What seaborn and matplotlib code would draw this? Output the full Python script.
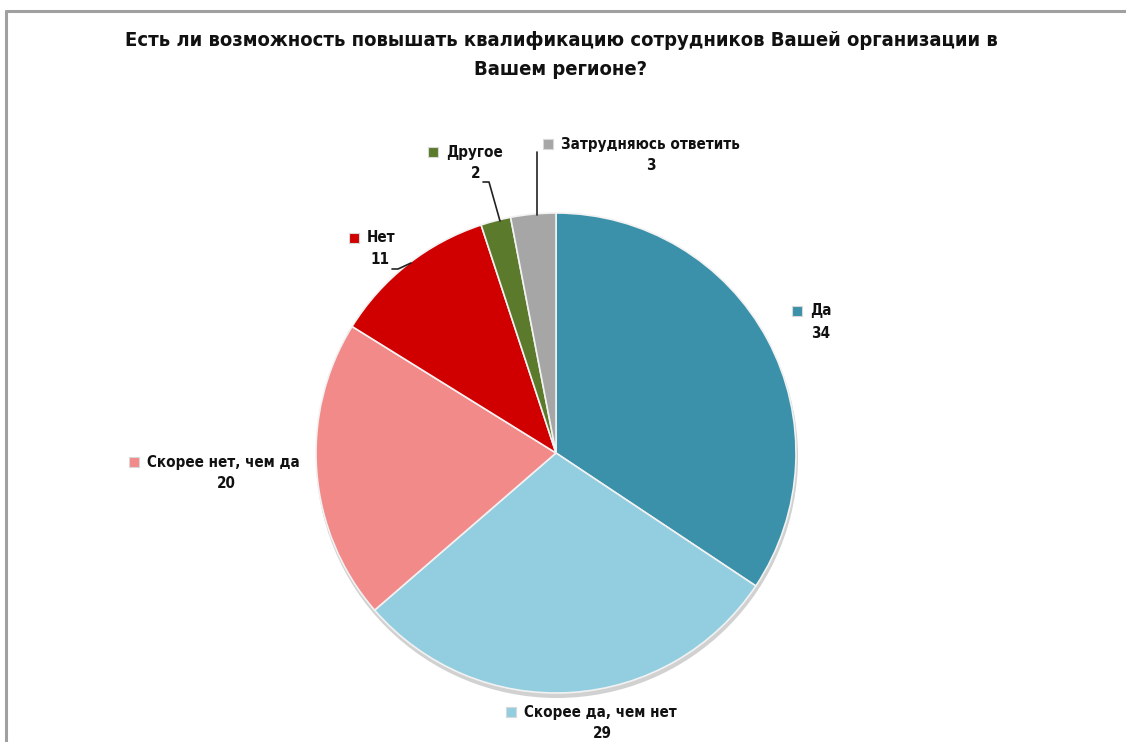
import matplotlib
matplotlib.use("Agg")
import matplotlib.pyplot as plt
from matplotlib.patches import Circle
from matplotlib.lines import Line2D
import seaborn as sns

# Survey answers, clockwise from 12 o'clock
categories = ["Да", "Скорее да, чем нет", "Скорее нет, чем да", "Нет", "Другое",
              "Затрудняюсь ответить"]
values = [34, 29, 20, 11, 2, 3]
title = "Есть ли возможность повышать квалификацию сотрудников Вашей организации в\nВашем регионе?"

sns.set_theme(style="white")
plt.rcParams["font.family"] = ["DejaVu Sans"]
STRETCH = "condensed"

colors = sns.color_palette(["#3A91A9", "#93CEE0", "#F28A8A", "#D00000", "#5B7A2C", "#A6A6A6"])

W, H = 1126, 742
fig = plt.figure(figsize=(W / 100, H / 100), dpi=100)
ax = fig.add_axes([0, 0, 1, 1])


def py(y):
    return H - y


# frame of the chart area
fig.add_artist(Line2D([6 / W, 1], [py(11) / H, py(11) / H], color="#A0A0A0", lw=2.2))
fig.add_artist(Line2D([6 / W, 6 / W], [py(11) / H, 0], color="#A0A0A0", lw=2.2))

cx, cy, r = 556, py(453), 240
ax.add_patch(Circle((cx + 1, cy - 4), r + 1, color="#000000", alpha=0.18, lw=0, zorder=1))
wedges, _ = ax.pie(values, colors=colors, startangle=90, counterclock=False,
                   center=(cx, cy), radius=r, frame=True,
                   wedgeprops=dict(edgecolor="#F2F2F2", linewidth=1.2, zorder=2))
ax.set_xlim(0, W)
ax.set_ylim(0, H)
ax.set_aspect("equal")
ax.axis("off")

title_size = 14.5
label_size = 10.9
ax.text(561, py(55), title, ha="center", va="center", fontsize=title_size,
        fontweight="bold", linespacing=1.65, color="#111111", fontstretch=STRETCH)

# data labels: (marker x, line-1 y, value x) in pixel terms
label_pos = {
    "Да": (797, 311, 821),
    "Скорее да, чем нет": (511, 712, 602),
    "Скорее нет, чем да": (134, 462, 226),
    "Нет": (354, 238, 380),
    "Другое": (433, 152, 476),
    "Затрудняюсь ответить": (548, 144, 651),
}
for name, val, col in zip(categories, values, colors):
    mx, ly, vx = label_pos[name]
    ax.scatter([mx], [py(ly)], marker="s", s=55, color=col, edgecolor="#D8D8D8",
               linewidth=0.8, zorder=5)
    ax.text(mx + 13, py(ly), name, ha="left", va="center", fontsize=label_size,
            fontweight="bold", color="#111111", zorder=5, fontstretch=STRETCH)
    ax.text(vx, py(ly + 22), str(val), ha="center", va="center", fontsize=label_size,
            fontweight="bold", color="#111111", zorder=5, fontstretch=STRETCH)

# leader lines for the small slices
ax.plot([392, 398, 411], [py(269), py(269), py(263)], color="#222222", lw=1.2, zorder=4)
ax.plot([483, 489, 500], [py(182), py(182), py(221)], color="#222222", lw=1.2, zorder=4)
ax.plot([537, 537], [py(152), py(215)], color="#222222", lw=1.2, zorder=4)

fig.savefig("out.png", dpi=100, facecolor="white")
